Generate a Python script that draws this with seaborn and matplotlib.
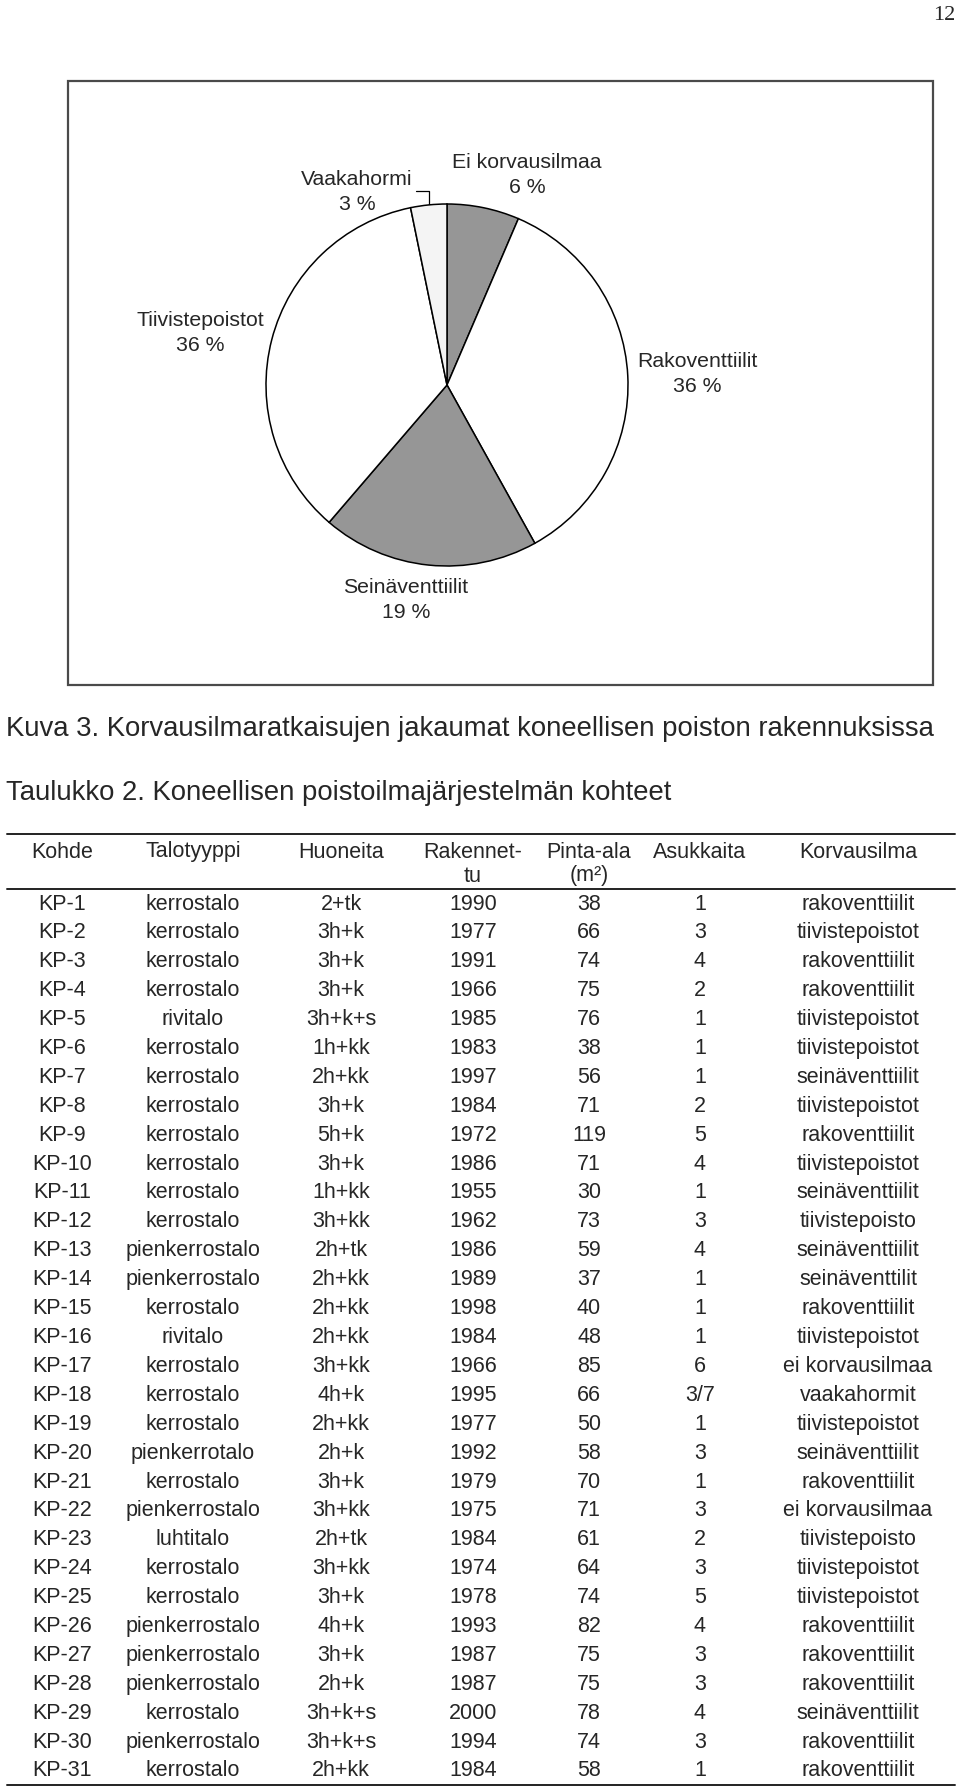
import numpy as np
import matplotlib
matplotlib.use("Agg")
import matplotlib.pyplot as plt
import seaborn as sns

# pie data: number of sites per solution (counted from the table) and the printed shares
pie_labels = ["Ei korvausilmaa", "Rakoventtiilit", "Seinäventtiilit", "Tiivistepoistot", "Vaakahormi"]
pie_counts = [2, 11, 6, 11, 1]
pie_pct = [6, 36, 19, 36, 3]
pie_colors = ["#969696", "#ffffff", "#969696", "#ffffff", "#f4f4f4"]

# table data
kohde = ["KP-1", "KP-2", "KP-3", "KP-4", "KP-5", "KP-6", "KP-7", "KP-8", "KP-9", "KP-10",
         "KP-11", "KP-12", "KP-13", "KP-14", "KP-15", "KP-16", "KP-17", "KP-18", "KP-19", "KP-20",
         "KP-21", "KP-22", "KP-23", "KP-24", "KP-25", "KP-26", "KP-27", "KP-28", "KP-29", "KP-30", "KP-31"]
talotyyppi = ["kerrostalo", "kerrostalo", "kerrostalo", "kerrostalo", "rivitalo", "kerrostalo",
              "kerrostalo", "kerrostalo", "kerrostalo", "kerrostalo", "kerrostalo", "kerrostalo",
              "pienkerrostalo", "pienkerrostalo", "kerrostalo", "rivitalo", "kerrostalo", "kerrostalo",
              "kerrostalo", "pienkerrotalo", "kerrostalo", "pienkerrostalo", "luhtitalo", "kerrostalo",
              "kerrostalo", "pienkerrostalo", "pienkerrostalo", "pienkerrostalo", "kerrostalo",
              "pienkerrostalo", "kerrostalo"]
huoneita = ["2+tk", "3h+k", "3h+k", "3h+k", "3h+k+s", "1h+kk", "2h+kk", "3h+k", "5h+k", "3h+k",
            "1h+kk", "3h+kk", "2h+tk", "2h+kk", "2h+kk", "2h+kk", "3h+kk", "4h+k", "2h+kk", "2h+k",
            "3h+k", "3h+kk", "2h+tk", "3h+kk", "3h+k", "4h+k", "3h+k", "2h+k", "3h+k+s", "3h+k+s", "2h+kk"]
rakennettu = [1990, 1977, 1991, 1966, 1985, 1983, 1997, 1984, 1972, 1986, 1955, 1962, 1986, 1989,
              1998, 1984, 1966, 1995, 1977, 1992, 1979, 1975, 1984, 1974, 1978, 1993, 1987, 1987,
              2000, 1994, 1984]
pinta_ala = [38, 66, 74, 75, 76, 38, 56, 71, 119, 71, 30, 73, 59, 37, 40, 48, 85, 66, 50, 58, 70,
             71, 61, 64, 74, 82, 75, 75, 78, 74, 58]
asukkaita = ["1", "3", "4", "2", "1", "1", "1", "2", "5", "4", "1", "3", "4", "1", "1", "1", "6",
             "3/7", "1", "3", "1", "3", "2", "3", "5", "4", "3", "3", "4", "3", "1"]
korvausilma = ["rakoventtiilit", "tiivistepoistot", "rakoventtiilit", "rakoventtiilit",
               "tiivistepoistot", "tiivistepoistot", "seinäventtiilit", "tiivistepoistot",
               "rakoventtiilit", "tiivistepoistot", "seinäventtiilit", "tiivistepoisto",
               "seinäventtiilit", "seinäventtilit", "rakoventtiilit", "tiivistepoistot",
               "ei korvausilmaa", "vaakahormit", "tiivistepoistot", "seinäventtiilit",
               "rakoventtiilit", "ei korvausilmaa", "tiivistepoisto", "tiivistepoistot",
               "tiivistepoistot", "rakoventtiilit", "rakoventtiilit", "rakoventtiilit",
               "seinäventtiilit", "rakoventtiilit", "rakoventtiilit"]

header_top = ["Kohde", "Talotyyppi", "Huoneita", "Rakennet-", "Pinta-ala", "Asukkaita", "Korvausilma"]
header_bottom = ["", "", "", "tu", "(m²)", "", ""]

sns.set_theme(style="white")
plt.rcParams["font.family"] = ["Liberation Sans", "DejaVu Sans"]

W, H = 960, 1788
fig = plt.figure(figsize=(W / 100, H / 100), dpi=100)
fig.patch.set_facecolor("white")

# page-level axes in pixel coordinates
ax = fig.add_axes([0, 0, 1, 1])
ax.set_xlim(0, W)
ax.set_ylim(H, 0)
ax.axis("off")

ax.text(944, 15, "12", family=["Liberation Serif"], fontsize=16, ha="center", va="center")

# chart frame
ax.add_patch(plt.Rectangle((68, 81), 865, 604, fill=False, ec="#4a4a4a", lw=1.6))

# pie
cx, cy, r = 447, 385, 181
pad = 1.03
pie_ax = fig.add_axes([(cx - r * pad) / W, 1 - (cy + r * pad) / H, 2 * r * pad / W, 2 * r * pad / H])
wedges, _ = pie_ax.pie(pie_counts, colors=pie_colors, startangle=90, counterclock=False,
                       radius=1, wedgeprops=dict(edgecolor="black", linewidth=1.1))
pie_ax.set_xlim(-pad, pad)
pie_ax.set_ylim(-pad, pad)
pie_ax.axis("off")

label_pos = [(527, 175), (697, 374), (406, 600), (200, 333), (357, 192)]
for name, pct, (lx, ly) in zip(pie_labels, pie_pct, label_pos):
    ax.text(lx, ly, f"{name}\n{pct} %", fontsize=15.3,
            ha="center", va="center", linespacing=1.35)

# leader line for the smallest slice
w = wedges[-1]
mid = np.deg2rad((w.theta1 + w.theta2) / 2)
ex, ey = cx + r * np.cos(mid), cy - r * np.sin(mid)
ax.plot([416, ex, ex], [191, 191, ey], color="black", lw=0.9)

# captions
ax.text(6, 729, "Kuva 3. Korvausilmaratkaisujen jakaumat koneellisen poiston rakennuksissa",
        fontsize=19.8, ha="left", va="center")
ax.text(6, 793, "Taulukko 2. Koneellisen poistoilmajärjestelmän kohteet",
        fontsize=19.8, ha="left", va="center")

# table
col_x = [62, 193, 341, 473, 589, 700, 858]
line_kw = dict(color="#222222", lw=1.4)
ax.plot([7, 955], [834, 834], **line_kw)
ax.plot([7, 955], [889, 889], **line_kw)
ax.plot([7, 955], [1785, 1785], **line_kw)

fs = 15.5
for x, t1, t2 in zip(col_x, header_top, header_bottom):
    ax.text(x, 852, t1, fontsize=fs, ha="center", va="center")
    if t2:
        ax.text(x, 876, t2, fontsize=fs, ha="center", va="center")

row_y0, row_h = 904, 28.9
columns = [kohde, talotyyppi, huoneita, rakennettu, pinta_ala, asukkaita, korvausilma]
for i in range(len(kohde)):
    y = row_y0 + i * row_h
    for x, col in zip(col_x, columns):
        ax.text(x, y, str(col[i]), fontsize=fs, ha="center", va="center")

fig.savefig("out.png", dpi=100, facecolor="white")
plt.close(fig)
